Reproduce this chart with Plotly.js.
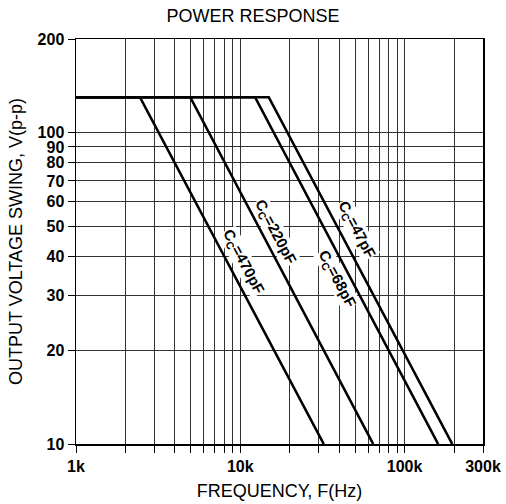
<!DOCTYPE html>
<html>
<head>
<meta charset="utf-8">
<script src="https://cdn.plot.ly/plotly-3.0.1.min.js"></script>
<style>html,body{margin:0;padding:0;background:#fff;}#chart{width:506px;height:504px;}</style>
</head>
<body>
<div id="chart"></div>
<script>
// Data
const capacitors = ["470pF", "220pF", "68pF", "47pF"];
const startFreq = [1000, 1000, 1000, 1000];
const breakFreq = [2450, 4960, 12300, 14900];
const endFreq = [32200, 64400, 160000, 195000];
const flatVolts = [130, 130, 130, 130];
const endVolts = [10, 10, 10, 10];
const labelFreq = [10500, 16400, 38500, 51000];
const labelVolts = [38.4, 47.9, 34, 49];

const xGrid = [1000,2000,3000,4000,5000,6000,7000,8000,9000,10000,20000,30000,40000,50000,60000,70000,80000,90000,100000,200000,300000];
const xTickText = xGrid.map(v => v === 1000 ? "1k" : v === 10000 ? "10k" : v === 100000 ? "100k" : v === 300000 ? "300k" : "");
const yGrid = [10,20,30,40,50,60,70,80,90,100,200];
const yTickText = ["10","20","30","40","50","60","70","80","90","100","200"];

const traces = capacitors.map((c, i) => ({
  x: [startFreq[i], breakFreq[i], endFreq[i]],
  y: [flatVolts[i], flatVolts[i], endVolts[i]],
  mode: "lines",
  line: {color: "#000", width: 2.6},
  name: c,
  showlegend: false,
  hoverinfo: "skip"
}));

const annotations = capacitors.map((c, i) => ({
  x: Math.log10(labelFreq[i]),
  y: Math.log10(labelVolts[i]),
  xref: "x", yref: "y",
  text: "C<sub>C</sub>=" + c,
  showarrow: false,
  textangle: 62,
  bgcolor: "#fff",
  borderpad: 0,
  font: {family: "Liberation Sans, Arial, sans-serif", size: 15, color: "#000", weight: "bold"}
}));

const tickFont = {family: "Liberation Sans, Arial, sans-serif", size: 16, color: "#000", weight: "bold"};
const titleFont = {family: "Liberation Sans, Arial, sans-serif", size: 18, color: "#000"};

const layout = {
  width: 506, height: 504,
  margin: {l: 76, r: 23, t: 39, b: 60},
  paper_bgcolor: "#fff", plot_bgcolor: "#fff",
  title: {text: "POWER RESPONSE", font: titleFont, x: 0.5, xanchor: "center", y: 0.968, yanchor: "middle"},
  xaxis: {
    type: "log", range: [3, Math.log10(300000)],
    tickmode: "array", tickvals: xGrid, ticktext: xTickText,
    ticks: "outside", ticklen: 7, tickcolor: "#000", tickwidth: 1,
    showgrid: true, gridcolor: "#333", gridwidth: 1,
    showline: true, linecolor: "#000", linewidth: 1.5, mirror: true,
    zeroline: false, tickfont: tickFont,
    title: {text: "FREQUENCY, F(Hz)", font: titleFont, standoff: 10}
  },
  yaxis: {
    type: "log", range: [1, Math.log10(200)],
    tickmode: "array", tickvals: yGrid, ticktext: yTickText,
    ticks: "outside", ticklen: 7, tickcolor: "#000", tickwidth: 1,
    showgrid: true, gridcolor: "#333", gridwidth: 1,
    showline: true, linecolor: "#000", linewidth: 1.5, mirror: true,
    zeroline: false, tickfont: tickFont,
    title: {text: "OUTPUT VOLTAGE SWING, V(p-p)", font: titleFont, standoff: 10}
  },
  annotations: annotations
};

Plotly.newPlot("chart", traces, layout, {staticPlot: true, displayModeBar: false});
</script>
</body>
</html>
